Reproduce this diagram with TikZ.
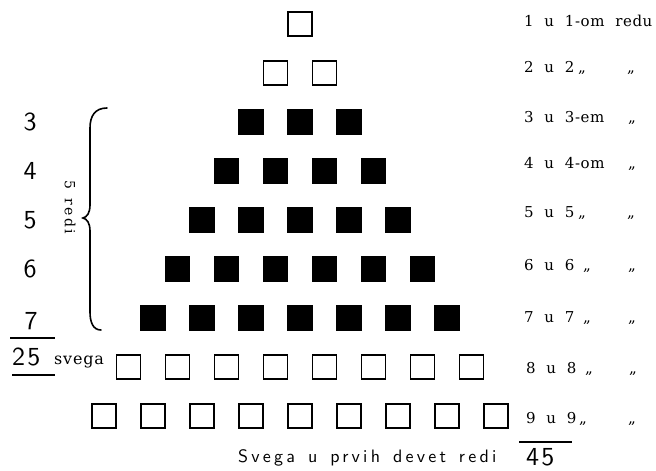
\documentclass[tikz,border=0pt]{standalone}
\usepackage{fontspec}
\newfontfamily\lblfont{DejaVu Serif}[LetterSpace=4,WordSpace=2]
\newfontfamily\svfont{DejaVu Serif}[LetterSpace=5]
\newfontfamily\rdfont{DejaVu Serif}[LetterSpace=15,WordSpace=1.5]
\newfontfamily\numfont{lmsans10-regular.otf}[LetterSpace=8]
\newfontfamily\botfont{lmsans10-regular.otf}[LetterSpace=18,WordSpace=1.4]
\begin{document}
\begin{tikzpicture}[x=1pt,y=-1pt,
  esq/.style={draw, line width=1.8pt, minimum size=24pt, inner sep=0pt},
  fsq/.style={draw, fill=black, line width=1.2pt, minimum size=24.5pt, inner sep=0pt},
  lbl/.style={anchor=base west, inner sep=0pt, font=\lblfont\fontsize{15}{15}\selectfont},
  ditto/.style={anchor=base, inner sep=0pt, font=\lblfont\fontsize{15}{15}\selectfont},
  lnum/.style={inner sep=0pt, font=\numfont\fontsize{26}{26}\selectfont},
  rulel/.style={line width=1.3pt}]
\useasboundingbox (0,0) rectangle (656,471);
% squares
\foreach \r/\st in {1/esq,2/esq,3/fsq,4/fsq,5/fsq,6/fsq,7/fsq,8/esq,9/esq}{
  \foreach \k in {1,...,\r}{
    \node[\st] (q\r-\k) at ({300+49*(\k-(\r+1)/2)},{24+49*(\r-1)}) {};
  }
}
% right labels
\node[lbl] (lab1) at (524,27) {1 u 1-om redu};
\node[lbl] (lab2) at (524,72) {2 u 2};
\node[lbl] (lab3) at (524,122) {3 u 3-em};
\node[lbl] (lab4) at (524,168) {4 u 4-om};
\node[lbl] (lab5) at (524,217) {5 u 5};
\node[lbl] (lab6) at (524,270) {6 u 6};
\node[lbl] (lab7) at (524,322) {7 u 7};
\node[lbl] (lab8) at (526,373) {8 u 8};
\node[lbl] (lab9) at (526,423) {9 u 9};
% ditto marks
\node[ditto] (d2a) at (582,72) {„};
\node[ditto] (d2b) at (631,72) {„};
\node[ditto] (d3b) at (632,122) {„};
\node[ditto] (d4b) at (632,168) {„};
\node[ditto] (d5a) at (582,217) {„};
\node[ditto] (d5b) at (631,217) {„};
\node[ditto] (d6a) at (587,270) {„};
\node[ditto] (d6b) at (632,270) {„};
\node[ditto] (d7a) at (587,322) {„};
\node[ditto] (d7b) at (632,322) {„};
\node[ditto] (d8a) at (589,373) {„};
\node[ditto] (d8b) at (633,373) {„};
\node[ditto] (d9a) at (583,423) {„};
\node[ditto] (d9b) at (632,423) {„};
% total on right
\coordinate (t45a) at (519,442);
\coordinate (t45b) at (572,442);
\draw[rulel] (t45a) -- (t45b);
\node[lnum, anchor=base west] (n45) at (526,465) {45};
\node[anchor=base west, inner sep=0pt, font=\botfont\fontsize{18}{18}\selectfont] (tot) at (238,462) {Svega u prvih devet redi};
% left numbers
\node[lnum] (n3) at (30,122) {3};
\node[lnum] (n4) at (30,171) {4};
\node[lnum] (n5) at (30,220) {5};
\node[lnum] (n6) at (30,269) {6};
\node[lnum] (n7) at (31,321) {7};
\coordinate (s25a) at (10,338);
\coordinate (s25b) at (55,338);
\draw[rulel] (s25a) -- (s25b);
\node[lnum, anchor=base west] (n25) at (12,365) {25};
\node[anchor=base west, inner sep=0pt, font=\svfont\fontsize{16}{16}\selectfont] (sv) at (54,364) {svega};
\coordinate (u25a) at (12,375);
\coordinate (u25b) at (55,375);
\draw[line width=1.6pt] (u25a) -- (u25b);
% brace
\draw[line width=1.6pt, line cap=round]
  (107,108) .. controls (95,108) and (90,116) .. (90,128)
  -- (90,205) .. controls (90,213) and (87,217) .. (83,218)
  .. controls (87,219) and (90,223) .. (90,231)
  -- (90,312) .. controls (90,322) and (93,330) .. (101,330);
\node[rotate=-90, inner sep=0pt, font=\rdfont\fontsize{14}{14}\selectfont] (redi) at (70,207) {5 redi};
\end{tikzpicture}
\end{document}
